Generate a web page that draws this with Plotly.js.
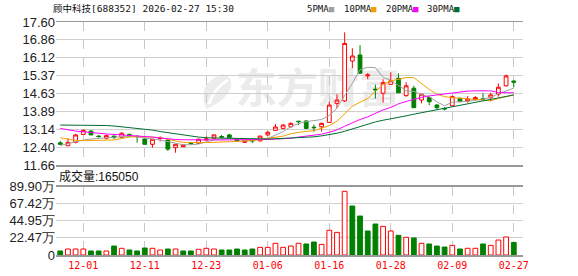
<!DOCTYPE html>
<html><head><meta charset="utf-8">
<script src="https://cdn.plot.ly/plotly-3.0.1.min.js"></script>
<style>html,body{margin:0;padding:0;background:#fff}#c{width:578px;height:276px}</style>
</head><body><div id="c"></div>
<script>
const dates = ['11-26','11-27','11-28','12-01','12-02','12-03','12-04','12-05','12-08','12-09','12-10','12-11','12-12','12-15','12-16','12-17','12-18','12-19','12-22','12-23','12-24','12-25','12-26','12-29','12-30','12-31','01-05','01-06','01-07','01-08','01-09','01-12','01-13','01-14','01-15','01-16','01-19','01-20','01-21','01-22','01-23','01-26','01-27','01-28','01-29','01-30','02-02','02-03','02-04','02-05','02-06','02-09','02-10','02-11','02-12','02-13','02-24','02-25','02-26','02-27'];
const open  = [12.58,12.46,12.60,12.93,13.07,12.86,12.77,12.86,12.81,12.93,12.86,12.74,12.52,12.76,12.70,12.38,12.42,12.57,12.56,12.70,12.77,12.84,12.91,12.74,12.60,12.68,12.66,12.91,13.10,13.18,13.25,13.48,13.49,13.23,13.25,13.43,14.22,14.32,15.98,16.23,15.36,14.81,14.64,15.01,15.26,14.54,14.85,14.36,14.46,14.15,14.01,14.12,14.43,14.32,14.38,14.42,14.46,14.60,14.95,15.15];
const high  = [12.66,12.77,12.95,13.14,13.09,12.90,12.93,12.88,13.02,12.96,12.88,12.76,12.74,12.85,12.72,12.53,12.50,12.62,12.76,12.85,12.92,12.91,12.95,12.76,12.66,12.74,12.88,13.07,13.36,13.36,13.43,13.49,13.51,13.34,13.42,14.29,14.60,17.17,16.51,16.64,15.48,15.00,15.22,15.51,15.47,15.10,14.95,14.60,14.47,14.19,14.06,14.55,14.45,14.52,14.52,14.64,14.66,15.05,15.42,15.16];
const low   = [12.50,12.45,12.56,12.92,12.90,12.80,12.72,12.74,12.78,12.84,12.59,12.50,12.38,12.64,12.25,12.17,12.40,12.50,12.55,12.66,12.74,12.79,12.78,12.65,12.58,12.58,12.64,12.86,13.07,13.14,13.21,13.32,13.16,13.05,13.05,13.42,14.02,14.28,15.68,15.47,15.22,14.42,14.25,15.00,14.66,14.50,14.04,14.22,14.14,13.96,13.93,14.10,14.29,14.25,14.33,14.35,14.30,14.50,14.92,14.88];
const close = [12.52,12.60,12.91,13.10,12.91,12.84,12.88,12.80,12.98,12.87,12.84,12.52,12.73,12.78,12.32,12.52,12.49,12.55,12.73,12.74,12.91,12.82,12.80,12.66,12.66,12.66,12.86,13.02,13.24,13.32,13.39,13.46,13.18,13.21,13.39,14.15,14.36,16.71,16.19,15.47,15.40,14.78,15.08,15.16,14.66,14.95,14.04,14.60,14.29,14.04,13.99,14.50,14.29,14.40,14.46,14.40,14.57,14.89,15.36,15.10];
const ma5  = [12.47,12.55,12.63,12.70,12.74,12.76,12.78,12.81,12.84,12.86,12.83,12.80,12.74,12.70,12.63,12.56,12.50,12.50,12.53,12.62,12.70,12.74,12.77,12.75,12.68,12.69,12.72,12.77,12.90,13.05,13.25,13.38,13.46,13.50,13.55,13.72,14.02,14.55,15.05,15.62,15.72,15.70,15.30,15.18,14.95,14.75,14.72,14.58,14.50,14.28,14.12,14.27,14.29,14.30,14.35,14.40,14.46,14.62,14.75,14.85];
const ma10 = [12.79,12.73,12.68,12.67,12.67,12.67,12.67,12.70,12.76,12.82,12.84,12.84,12.82,12.80,12.72,12.66,12.60,12.59,12.59,12.59,12.60,12.61,12.63,12.64,12.66,12.67,12.72,12.76,12.82,12.86,12.96,13.02,13.06,13.08,13.18,13.30,13.48,13.80,14.10,14.27,14.42,14.72,15.00,15.15,15.23,15.29,15.29,15.05,14.80,14.60,14.50,14.46,14.43,14.40,14.37,14.34,14.33,14.42,14.50,14.57];
const ma20 = [13.18,13.12,13.07,13.04,13.00,12.97,12.95,12.93,12.91,12.89,12.87,12.86,12.82,12.78,12.74,12.72,12.71,12.70,12.70,12.70,12.70,12.70,12.71,12.71,12.71,12.71,12.72,12.72,12.73,12.73,12.77,12.82,12.86,12.90,12.94,13.02,13.12,13.27,13.42,13.55,13.66,13.82,13.95,14.05,14.20,14.30,14.40,14.47,14.53,14.57,14.61,14.64,14.68,14.73,14.74,14.74,14.74,14.67,14.66,14.66];
const ma30 = [13.32,13.32,13.31,13.31,13.31,13.30,13.30,13.28,13.25,13.22,13.18,13.14,13.11,13.05,13.00,12.95,12.90,12.85,12.82,12.79,12.78,12.77,12.76,12.75,12.74,12.74,12.74,12.74,12.75,12.76,12.77,12.78,12.80,12.83,12.87,12.92,12.98,13.06,13.16,13.26,13.36,13.45,13.52,13.57,13.63,13.70,13.77,13.83,13.90,13.96,14.02,14.07,14.12,14.18,14.25,14.32,14.38,14.44,14.51,14.57];
const volume = [53000,79000,79000,79000,53000,53000,53000,118000,88000,66000,53000,92000,88000,66000,79000,79000,53000,53000,75000,88000,79000,66000,66000,79000,66000,79000,101000,101000,154000,101000,118000,154000,145000,171000,140000,325000,298000,838000,645000,513000,316000,408000,377000,316000,259000,233000,224000,154000,145000,118000,105000,127000,79000,88000,88000,145000,127000,197000,237000,165050];
const volUp = [0,1,1,1,0,0,1,0,1,0,0,0,1,1,0,1,0,0,1,1,1,0,0,0,0,0,1,1,1,1,1,1,0,0,1,1,1,1,0,0,0,0,1,1,0,1,0,1,0,0,0,1,0,1,1,0,1,1,1,0];
const priceTicks = [11.66,12.4025,13.145,13.8875,14.63,15.3725,16.115,16.8575,17.60];
const priceTickText = ['11.66','12.40','13.14','13.89','14.63','15.37','16.12','16.86','17.60'];
const volTicks = [0,224750,449500,674250,899000];
const volTickText = ['0','22.47万','44.95万','67.42万','89.90万'];
const tickDates = ['12-01','12-11','12-23','01-06','01-16','01-28','02-09','02-27'];
const maNames = ['5PMA','10PMA','20PMA','30PMA'];
const maColors = ['#a0a0a0','#f0a000','#ff00ff','#006e30'];
const title = '顾中科技[688352] 2026-02-27 15:30';
const volLabel = '成交量:165050';

const RED = '#ff0000', GRN = '#008000';
const x = dates.map((d,i)=>i);
const tickIdx = tickDates.map(d=>dates.indexOf(d));

const traces = [];
traces.push({type:'candlestick',x:x,open:open,high:high,low:low,close:close,xaxis:'x2',yaxis:'y',
  increasing:{line:{color:RED,width:1},fillcolor:'#ffffff'},
  decreasing:{line:{color:GRN,width:1},fillcolor:GRN},
  whiskerwidth:0,hoverinfo:'skip',showlegend:false});
[ma5,ma10,ma20,ma30].forEach((m,k)=>{
  traces.push({type:'scatter',mode:'lines',x:x,y:m,xaxis:'x2',yaxis:'y',
    line:{color:maColors[k],width:1},hoverinfo:'skip',showlegend:false});
});
traces.push({type:'bar',x:x,y:volume,xaxis:'x',yaxis:'y2',
  marker:{color:volUp.map(u=>u?'#ffffff':GRN),line:{color:volUp.map(u=>u?RED:GRN),width:1}},
  hoverinfo:'skip',showlegend:false});

const axFont = {family:'Liberation Sans, Arial, sans-serif',size:13,color:'#222'};
const xcommon = {range:[-0.55,60.2],tickvals:tickIdx,showgrid:true,gridcolor:'#c8c8c8',griddash:'dash',gridwidth:1,
  showline:true,mirror:true,linecolor:'#999',linewidth:1.5,ticks:'',zeroline:false,fixedrange:true,
  rangeslider:{visible:false}};

const W=578,H=276,L=56,R=55,T=22,B=21,PW=W-L-R,PH=H-T-B;
const px = v=>(v-L)/PW, py = v=>(H-B-v)/PH;

const anns = [
 {xref:'paper',yref:'paper',x:px(51),y:py(9),xanchor:'left',yanchor:'middle',showarrow:false,
  text:title,font:{family:'DejaVu Sans Mono, Noto Sans CJK SC, monospace',size:9.5,color:'#111'}},
 {xref:'paper',yref:'paper',x:px(57),y:py(176),xanchor:'left',yanchor:'middle',showarrow:false,
  text:volLabel,font:{family:'Liberation Sans, Noto Sans CJK SC, sans-serif',size:12,color:'#111'}}
];
maNames.forEach((n,k)=>{
  anns.push({xref:'paper',yref:'paper',x:px([305,342,384,425][k]),y:py(9),xanchor:'left',yanchor:'middle',showarrow:false,
    text:n+'<span style="color:'+maColors[k]+'">■</span>',font:{family:'DejaVu Sans Mono, monospace',size:9,color:'#111'}});
});

// watermark logo (decorative), in paper coordinates
const pp = (a,b)=>px(a).toFixed(4)+','+py(b).toFixed(4);
const logoPath = 'M'+pp(206,109)+' Q'+pp(196,84)+' '+pp(222,74)+' Q'+pp(236,78)+' '+pp(229,92)+' Q'+pp(220,104)+' '+pp(206,109)+' Z';
const logoCut = 'M'+pp(209,104)+' Q'+pp(214,88)+' '+pp(228,80);

const layout = {
  width:W,height:H,margin:{l:L,r:R,t:T,b:B,pad:0},paper_bgcolor:'#fff',plot_bgcolor:'#fff',
  showlegend:false,bargap:0.38,hovermode:false,
  xaxis:Object.assign({},xcommon,{anchor:'y2',ticktext:tickDates,showticklabels:true,
    tickfont:{family:'DejaVu Sans Mono, monospace',size:10,color:RED}}),
  xaxis2:Object.assign({},xcommon,{anchor:'y',matches:'x',showticklabels:false}),
  yaxis:{domain:[py(165),1],range:[11.66,17.60],tickvals:priceTicks,ticktext:priceTickText,tickfont:axFont,
    showgrid:true,gridcolor:'#cfcfcf',gridwidth:1,showline:false,zeroline:false,ticks:'',fixedrange:true},
  yaxis2:{domain:[0,py(186.7)],range:[0,899000],tickvals:volTicks,ticktext:volTickText,tickfont:axFont,
    showgrid:true,gridcolor:'#cfcfcf',gridwidth:1,showline:false,zeroline:false,ticks:'',fixedrange:true},
  annotations:anns,
  shapes:[
    {type:'path',xref:'paper',yref:'paper',path:logoPath,layer:'below',line:{width:0},fillcolor:'#ececec'},
    {type:'path',xref:'paper',yref:'paper',path:logoCut,layer:'below',line:{width:3,color:'#ffffff'}},
    {type:'rect',xref:'x2',yref:'y',x0:20,x1:47,y0:14.0,y1:15.4,layer:'below',
    line:{width:0},fillcolor:'rgba(0,0,0,0)',
    label:{text:'东方财富',font:{family:'Noto Sans CJK SC, sans-serif',size:41,color:'#ebebeb',weight:700},textposition:'middle center'}}]
};
Plotly.newPlot('c',traces,layout,{displayModeBar:false,staticPlot:true});
</script></body></html>
